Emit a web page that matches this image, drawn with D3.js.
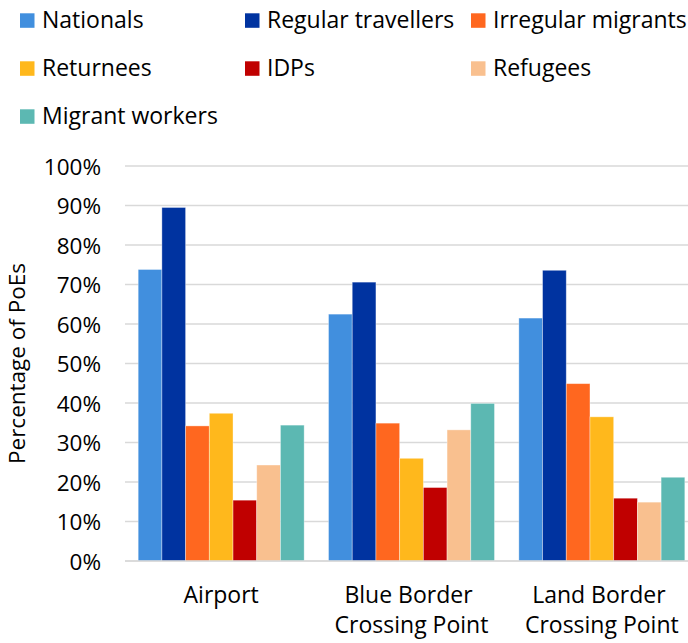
<!DOCTYPE html>
<html>
<head>
<meta charset="utf-8">
<script src="https://cdn.jsdelivr.net/npm/d3@7"></script>
<style>
  html, body { margin: 0; padding: 0; background: #fff; }
  svg { display: block; font-family: "Open Sans", Lato, sans-serif; }
</style>
</head>
<body>
<svg id="chart" width="688" height="643"></svg>
<script>
// Points of entry (x groups); first lines keep the trailing space of the wrapped label
const categories = [["Airport"], ["Blue Border\u00a0", "Crossing Point"], ["Land Border\u00a0", "Crossing Point"]];
const categoryKeys = ["Airport", "Blue Border Crossing Point", "Land Border Crossing Point"];

// Population groups (series)
const seriesNames = ["Nationals", "Regular travellers", "Irregular migrants", "Returnees", "IDPs", "Refugees", "Migrant workers"];
const seriesColors = ["#418FDE", "#0033A0", "#FF671F", "#FFB81C", "#C00000", "#F9C08F", "#5CB8B2"];

// Share of PoEs (%) per series, one value per category
const nationals         = [73.8, 62.5, 61.5];
const regularTravellers = [89.5, 70.6, 73.6];
const irregularMigrants = [34.2, 34.9, 44.9];
const returnees         = [37.4, 26.0, 36.5];
const idps              = [15.4, 18.6, 15.9];
const refugees          = [24.3, 33.2, 14.9];
const migrantWorkers    = [34.4, 39.9, 21.2];
const seriesValues = [nationals, regularTravellers, irregularMigrants, returnees, idps, refugees, migrantWorkers];

const yTicks = [0, 10, 20, 30, 40, 50, 60, 70, 80, 90, 100];

const svg = d3.select("#chart");

const plot = { left: 126, right: 697, top: 166, bottom: 561 };

const x = d3.scaleBand().domain(categoryKeys).range([plot.left, plot.right]).paddingInner(0.128).paddingOuter(0.064);
const xs = d3.scaleBand().domain(seriesNames).range([0, x.bandwidth()]).padding(0);
const y = d3.scaleLinear().domain([0, 100]).range([plot.bottom, plot.top]);

// Horizontal gridlines
svg.append("g")
  .selectAll("line")
  .data(yTicks)
  .join("line")
  .attr("x1", plot.left - 1)
  .attr("x2", 688)
  .attr("y1", d => y(d))
  .attr("y2", d => y(d))
  .attr("stroke", "#d9d9d9")
  .attr("stroke-width", 1.5);

// Y tick labels
svg.append("g")
  .selectAll("text")
  .data(yTicks)
  .join("text")
  .attr("x", 101)
  .attr("y", d => y(d) + 8.5)
  .attr("text-anchor", "end")
  .attr("font-size", 22.5)
  .attr("fill", "#000")
  .text(d => d + "%");

// Y axis title
svg.append("text")
  .attr("transform", `translate(25,${(plot.top + plot.bottom) / 2}) rotate(-90)`)
  .attr("text-anchor", "middle")
  .attr("font-size", 22.5)
  .attr("fill", "#000")
  .text("Percentage of PoEs");

// Bars
const groups = svg.append("g")
  .selectAll("g")
  .data(categoryKeys)
  .join("g")
  .attr("transform", d => `translate(${x(d)},0)`);

groups.selectAll("rect")
  .data((d, ci) => seriesNames.map((s, si) => ({ s, si, v: seriesValues[si][ci] })))
  .join("rect")
  .attr("x", d => xs(d.s))
  .attr("width", xs.bandwidth())
  .attr("y", d => y(d.v))
  .attr("height", d => y(0) - y(d.v))
  .attr("fill", d => seriesColors[d.si])
  .attr("stroke", "rgba(255,255,255,0.45)")
  .attr("stroke-width", 0.8);

// Baseline
svg.append("line")
  .attr("x1", plot.left - 1).attr("x2", 688)
  .attr("y1", y(0)).attr("y2", y(0))
  .attr("stroke", "#d9d9d9").attr("stroke-width", 1.5);

// Category labels
const catLabels = svg.append("g")
  .selectAll("text")
  .data(categories)
  .join("text")
  .attr("x", (d, i) => x(categoryKeys[i]) + x.bandwidth() / 2)
  .attr("y", 603)
  .attr("text-anchor", "middle")
  .attr("font-size", 23)
  .attr("fill", "#000");
catLabels.selectAll("tspan")
  .data(d => d)
  .join("tspan")
  .attr("x", function () { return d3.select(this.parentNode).attr("x"); })
  .attr("dy", (d, i) => i === 0 ? 0 : 30)
  .text(d => d);

// Legend (3 columns)
const legendCols = [20, 245, 471];
const legendRows = [20.5, 68.5, 116.5];
const legend = svg.append("g")
  .selectAll("g")
  .data(seriesNames)
  .join("g")
  .attr("transform", (d, i) => `translate(${legendCols[i % 3]},${legendRows[Math.floor(i / 3)]})`);
legend.append("rect")
  .attr("x", 0).attr("y", -7.2)
  .attr("width", 14.5).attr("height", 14.5)
  .attr("fill", (d, i) => seriesColors[i]);
legend.append("text")
  .attr("x", 22)
  .attr("y", 7.2)
  .attr("font-size", 23)
  .attr("fill", "#000")
  .text(d => d);
</script>
</body>
</html>
